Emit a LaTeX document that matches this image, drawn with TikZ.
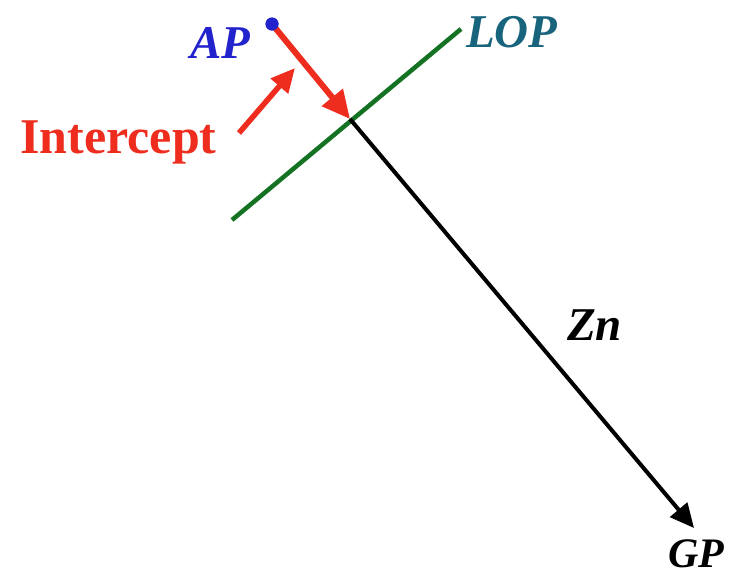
\documentclass[tikz,border=0pt]{standalone}
\usepackage{fontspec}
\setmainfont{Liberation Serif}
\usetikzlibrary{arrows.meta}
\definecolor{apblue}{RGB}{35,35,205}
\definecolor{lopteal}{RGB}{25,100,125}
\definecolor{lgreen}{RGB}{20,115,35}
\definecolor{ired}{RGB}{238,45,30}
\begin{document}
\begin{tikzpicture}[x=1pt,y=-1pt,
  lbl/.style={font=\fontsize{47}{47}\selectfont\bfseries\itshape, inner sep=0pt, anchor=base west},
  redarrow/.style={draw=ired, line width=6pt, -{Triangle[length=28pt,width=26pt]}},
  smallred/.style={draw=ired, line width=5.5pt, -{Triangle[length=24pt,width=22pt]}},
  zarrow/.style={draw=black, line width=4pt, -{Triangle[length=24pt,width=22pt]}},
  lopline/.style={draw=lgreen, line width=4.5pt},
  apdot/.style={circle, fill=apblue, inner sep=0pt, minimum size=13pt}]
\useasboundingbox (0,0) rectangle (733,579);
\fill[white] (0,0) rectangle (733,579);
% points
\node[apdot] (ap) at (272,24) {};
\coordinate (X) at (350,119);
\coordinate (gp) at (694,528);
\coordinate (l1) at (232,220);
\coordinate (l2) at (461,29);
\coordinate (ia) at (239,133);
\coordinate (ib) at (295,68);
% lines
\draw[lopline] (l1) -- (l2);
\draw[zarrow] (X) -- (gp);
\draw[redarrow] (ap.center) -- (X);
\node[apdot] at (ap) {};
\draw[smallred] (ia) -- (ib);
% labels
\node[lbl, text=apblue] (aplbl) at (190,58) {AP};
\node[lbl, text=ired, font=\fontsize{50}{50}\selectfont\bfseries] (intlbl) at (20,153) {Intercept};
\node[lbl, text=lopteal] (loplbl) at (466,47) {LOP};
\node[lbl, text=black] (znlbl) at (567,340) {Zn};
\node[lbl, text=black, font=\fontsize{42}{42}\selectfont\bfseries\itshape] (gplbl) at (668,567) {GP};
\end{tikzpicture}
\end{document}
